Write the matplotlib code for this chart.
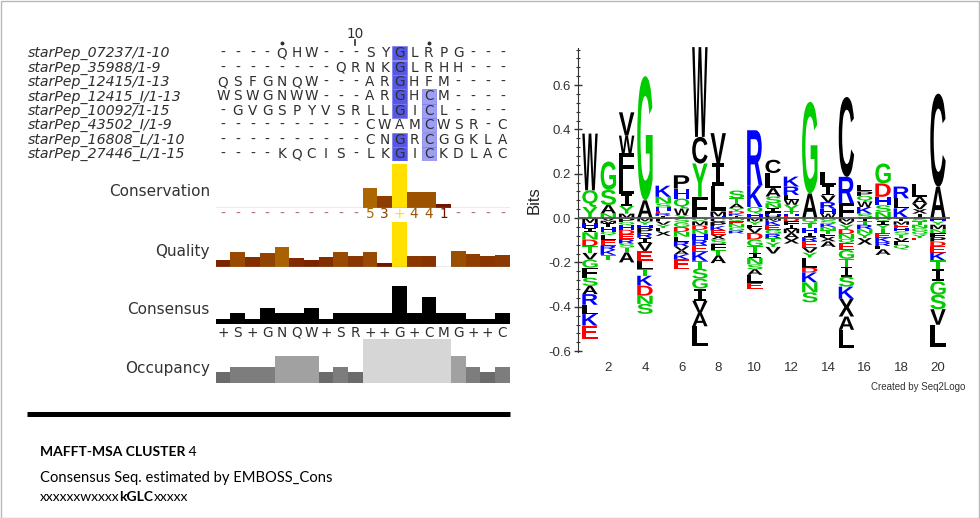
import matplotlib
matplotlib.use("Agg")
import matplotlib.pyplot as plt
from matplotlib.textpath import TextPath
from matplotlib.patches import PathPatch, Rectangle
from matplotlib.font_manager import FontProperties
from matplotlib.transforms import Affine2D, blended_transform_factory
from matplotlib.colors import LinearSegmentedColormap
from matplotlib.lines import Line2D
from matplotlib.ticker import MultipleLocator

plt.rcParams['axes.unicode_minus'] = False

# ---------------- data ----------------
seq_names = ["starPep_07237/1-10", "starPep_35988/1-9", "starPep_12415/1-13",
             "starPep_12415_I/1-13", "starPep_10092/1-15", "starPep_43502_I/1-9",
             "starPep_16808_L/1-10", "starPep_27446_L/1-15"]
sequences = ["----QHW---SYGLRPG---",
             "--------QRNKGLRHH---",
             "QSFGNQW---ARGHFM----",
             "WSWGNWW---ARGHCM----",
             "-GVGSPYVSRLLGICL----",
             "----------CWAMCWSR-C",
             "----------CNGRCGGKLA",
             "----KQCIS-LKGICKDLAC"]
columns = list(range(1, 21))
ruler_major = [10]
ruler_minor = [5, 15]
highlight_cols = [13, 15]
highlight_res = ["G", "C"]
conservation = [0, 0, 0, 0, 0, 0, 0, 0, 0, 0, 5, 3, 11, 4, 4, 1, 0, 0, 0, 0]
conservation_labels = list("----------53+441----")
quality = [16, 33, 21, 30, 44, 19, 16, 21, 33, 24, 33, 9, 100, 25, 23, 0, 35, 28, 24, 26]
consensus_pct = [12.5, 25, 12.5, 37.5, 25, 25, 37.5, 12.5, 25, 25,
                 25, 25, 87.5, 25, 62.5, 25, 25, 12.5, 12.5, 25]
consensus_labels = list("+S+GNQW+SR++G+CMG++C")
occupancy = [2, 3, 3, 3, 5, 5, 5, 2, 3, 2, 8, 8, 8, 8, 8, 8, 5, 3, 2, 3]

logo_positions = list(range(1, 21))
logo_pos_letters = ["YQW", "NASG", "MYILFWV", "AG", "IREHSNK", "YWQHP", "FYCW", "HMLIV",
                    "IKDYATS", "HQKR", "PHFINSALC", "EHTYWLRK", "AG", "WHRVIL", "FRC",
                    "SKWQPL", "NSHDG", "KLR", "IXVAL", "AC"]
logo_pos_heights = [
    [0.05, 0.075, 0.256],
    [0.021, 0.038, 0.068, 0.128],
    [0.02, 0.035, 0.055, 0.072, 0.11, 0.08, 0.105],
    [0.08, 0.56],
    [0.01, 0.012, 0.012, 0.014, 0.018, 0.03, 0.05],
    [0.013, 0.03, 0.045, 0.045, 0.06],
    [0.096, 0.15, 0.12, 0.405],
    [0.008, 0.022, 0.113, 0.105, 0.135],
    [0.01, 0.01, 0.012, 0.012, 0.02, 0.025, 0.035],
    [0.02, 0.03, 0.098, 0.248],
    [0.01, 0.01, 0.01, 0.015, 0.022, 0.03, 0.038, 0.068, 0.06],
    [0.01, 0.01, 0.01, 0.03, 0.022, 0.022, 0.038, 0.045],
    [0.111, 0.413],
    [0.02, 0.022, 0.03, 0.03, 0.045, 0.06],
    [0.066, 0.12, 0.36],
    [0.02, 0.03, 0.025, 0.025, 0.02, 0.03],
    [0.028, 0.03, 0.038, 0.06, 0.09],
    [0.044, 0.045, 0.053],
    [0.02, 0.02, 0.025, 0.03, 0.06],
    [0.141, 0.42],
]
logo_neg_letters = ["MHINDTVGFSARLKE", "VMIHQLERKT", "PQHDERSTA", "MYHPRIVELTKDNS",
                    "FVYLX", "SGDNLRVAKE", "QMDNHREKTSGIVAL", "CPKEXSFTA", "QENGR",
                    "MYFVDGTINSALE", "MKEGRTYV", "DFIMAX", "QTHIREVYLDKNS", "GSKNTFXA",
                    "MVYDNQEGTISKXAL", "ITRNYX", "QIYTEKRLA", "IMEHSTVFQ", "STNGQYE",
                    "HYMNFPDEKTIGSVL"]
logo_neg_heights = [
    [0.022, 0.022, 0.02, 0.033, 0.03, 0.03, 0.03, 0.037, 0.045, 0.037, 0.037, 0.048, 0.042, 0.052, 0.06],
    [0.012, 0.012, 0.018, 0.02, 0.015, 0.022, 0.025, 0.02, 0.022, 0.025],
    [0.018, 0.015, 0.02, 0.02, 0.022, 0.02, 0.018, 0.022, 0.045],
    [0.015, 0.015, 0.015, 0.022, 0.022, 0.022, 0.037, 0.045, 0.037, 0.03, 0.045, 0.045, 0.037, 0.045],
    [0.015, 0.015, 0.015, 0.015, 0.02],
    [0.02, 0.02, 0.022, 0.022, 0.022, 0.022, 0.018, 0.018, 0.022, 0.045],
    [0.015, 0.018, 0.02, 0.02, 0.025, 0.025, 0.03, 0.04, 0.035, 0.045, 0.045, 0.055, 0.055, 0.06, 0.09],
    [0.018, 0.018, 0.02, 0.02, 0.02, 0.022, 0.025, 0.025, 0.035],
    [0.015, 0.012, 0.015, 0.015, 0.012],
    [0.015, 0.015, 0.015, 0.022, 0.03, 0.03, 0.03, 0.022, 0.03, 0.022, 0.025, 0.035, 0.03],
    [0.012, 0.02, 0.02, 0.02, 0.018, 0.02, 0.02, 0.03],
    [0.015, 0.015, 0.018, 0.02, 0.022, 0.025],
    [0.022, 0.022, 0.022, 0.02, 0.018, 0.03, 0.022, 0.022, 0.045, 0.022, 0.045, 0.045, 0.045],
    [0.01, 0.015, 0.015, 0.015, 0.015, 0.015, 0.02, 0.025],
    [0.015, 0.015, 0.02, 0.022, 0.022, 0.02, 0.03, 0.04, 0.035, 0.045, 0.045, 0.055, 0.08, 0.06, 0.08],
    [0.015, 0.015, 0.02, 0.02, 0.02, 0.03],
    [0.015, 0.015, 0.018, 0.02, 0.02, 0.02, 0.018, 0.015, 0.025],
    [0.015, 0.015, 0.015, 0.015, 0.015, 0.015, 0.015, 0.015, 0.022],
    [0.015, 0.015, 0.015, 0.015, 0.015, 0.015, 0.01],
    [0.015, 0.015, 0.02, 0.018, 0.018, 0.02, 0.02, 0.03, 0.035, 0.04, 0.055, 0.06, 0.065, 0.07, 0.1],
]
logo_xticks = [2, 4, 6, 8, 10, 12, 14, 16, 18, 20]

# ---------------- figure ----------------
W, H = 980, 518
fig = plt.figure(figsize=(W / 100, H / 100), dpi=100)
fig.patch.set_facecolor("white")


def px_axes(x0, y0, x1, y1):
    return fig.add_axes([x0 / W, 1 - y1 / H, (x1 - x0) / W, (y1 - y0) / H])


COL_X0, COL_X1 = 215.7, 509.7
CW = (COL_X1 - COL_X0) / 20.0
ROW_TOP, ROW_H = 46.1, 14.4
TXT = "#2e2e2e"

# ---- alignment ----
ax_aln = px_axes(COL_X0, ROW_TOP, COL_X1, ROW_TOP + 8 * ROW_H)
ax_aln.set_xlim(0.5, 20.5)
ax_aln.set_ylim(8.5, 0.5)
ax_aln.axis("off")
hl_colors = ["#5757e6", "#9e9ef2"]


def yrow(px):
    return 0.5 + (px - ROW_TOP) / ROW_H


name_x = 0.5 + (28 - COL_X0) / CW
for r, (name, seq) in enumerate(zip(seq_names, sequences), start=1):
    ax_aln.text(name_x, r, name, ha="left", va="center", fontsize=10.2,
                style="italic", family="DejaVu Sans", color=TXT, clip_on=False)
    for c, ch in zip(columns, seq):
        if c in highlight_cols and ch == highlight_res[highlight_cols.index(c)]:
            k = highlight_cols.index(c)
            ax_aln.bar(c, 1, bottom=r - 0.5, width=1, color=hl_colors[k],
                       edgecolor="#7a7af0", linewidth=0.5)
        ax_aln.text(c, r, ch, ha="center", va="center", fontsize=9.8,
                    family="DejaVu Sans", color=TXT)

for c in ruler_major:
    ax_aln.plot([c, c], [yrow(40.5), yrow(45.0)], color=TXT, lw=1.2, clip_on=False)
    ax_aln.text(c, yrow(34), str(c), ha="center", va="center", fontsize=9.8,
                family="DejaVu Sans", color=TXT, clip_on=False)
for c in ruler_minor:
    ax_aln.plot([c], [yrow(43.3)], marker="o", ms=1.8, color=TXT, clip_on=False)

cmap_cons = LinearSegmentedColormap.from_list("jal", ["#640000", "#ffe000"])


def setup_row(ax, top):
    ax.set_xlim(0.5, 20.5)
    ax.set_ylim(0, top)
    ax.axis("off")


# ---- conservation ----
ax_c = px_axes(COL_X0, 164, COL_X1, 208)
setup_row(ax_c, 11)
ax_c.bar(columns, conservation, width=1.0,
         color=[cmap_cons(v / 11.0) for v in conservation], linewidth=0)
ax_c.axhline(0, color="#999999", lw=1.0)
tr = blended_transform_factory(ax_c.transData, ax_c.transAxes)
for c, s, v in zip(columns, conservation_labels, conservation):
    col = "#b07070" if s == "-" else cmap_cons(v / 11.0)
    ax_c.text(c, -0.14, s, transform=tr, ha="center", va="center", fontsize=9.8,
              family="DejaVu Sans", color=col, clip_on=False)

# ---- quality ----
ax_q = px_axes(COL_X0, 222, COL_X1, 266.7)
setup_row(ax_q, 100)
ax_q.bar(columns, quality, width=1.0,
         color=[cmap_cons(v / 100.0) for v in quality], linewidth=0)
ax_q.axhline(0, color="#999999", lw=1.0)

# ---- consensus ----
ax_s = px_axes(COL_X0, 281, COL_X1, 324)
setup_row(ax_s, 100)
ax_s.bar(columns, consensus_pct, width=1.0, color="black", linewidth=0)
tr = blended_transform_factory(ax_s.transData, ax_s.transAxes)
for c, s in zip(columns, consensus_labels):
    ax_s.text(c, -0.2, s, transform=tr, ha="center", va="center", fontsize=9.8,
              family="DejaVu Sans", color=TXT, clip_on=False)

# ---- occupancy ----
ax_o = px_axes(COL_X0, 339.3, COL_X1, 383.3)
setup_row(ax_o, 8)
cmap_occ = LinearSegmentedColormap.from_list("occ", ["#474747", "#d6d6d6"])
ax_o.bar(columns, occupancy, width=1.0,
         color=[cmap_occ(v / 8.0) for v in occupancy], linewidth=0)

for label, yc in [("Conservation", 192), ("Quality", 251.7),
                  ("Consensus", 309.7), ("Occupancy", 368.7)]:
    fig.text(210 / W, 1 - yc / H, label, ha="right", va="center", fontsize=11,
             family="DejaVu Sans", color="#333333")

# ---- thick rule and caption ----
fig.add_artist(Line2D([27 / W, 510 / W], [1 - 413.5 / H, 1 - 413.5 / H],
                      color="black", lw=3.6, solid_capstyle="butt"))

cap_font = "Lato"
t1 = fig.text(40 / W, 1 - 452 / H, "MAFFT-MSA CLUSTER", fontsize=10, weight="bold",
              family=cap_font, va="center", ha="left", color="black")
plt.annotate(" 4", xy=(1, 0), xycoords=t1, va="bottom", ha="left",
             fontsize=10, family=cap_font, color="black")
fig.text(40 / W, 1 - 478 / H, "Consensus Seq. estimated by EMBOSS_Cons", fontsize=10.6,
         family=cap_font, va="center", ha="left", color="black")
t2 = fig.text(40 / W, 1 - 497 / H, "xxxxxxwxxxx", fontsize=10, family=cap_font,
              va="center", ha="left", color="black")
t3 = plt.annotate("kGLC", xy=(1, 0), xycoords=t2, va="bottom", ha="left",
                  fontsize=10, weight="bold", family=cap_font, color="black")
plt.annotate("xxxxx", xy=(1, 0), xycoords=t3, va="bottom", ha="left",
             fontsize=10, family=cap_font, color="black")

# ---- sequence logo ----
axL = px_axes(578, 48, 950, 352)
axL.set_xlim(0.345, 20.655)
axL.set_ylim(-0.604, 0.767)
for sp in ["top", "right", "bottom"]:
    axL.spines[sp].set_visible(False)
axL.spines["left"].set_color("#333333")
axL.yaxis.set_major_locator(MultipleLocator(0.2))
axL.yaxis.set_minor_locator(MultipleLocator(0.04))
axL.tick_params(axis="y", which="major", direction="inout", length=6, width=1,
                labelsize=9.5, pad=2, colors="#333333")
axL.tick_params(axis="y", which="minor", direction="inout", length=3, width=0.8,
                colors="#333333")
axL.set_yticks([-0.6, -0.4, -0.2, 0.0, 0.2, 0.4, 0.6])
axL.set_yticklabels(["-0.6", "-0.4", "-0.2", "0.0", "0.2", "0.4", "0.6"],
                    family="Liberation Sans")
axL.set_xticks(logo_xticks)
axL.set_xticklabels([str(v) for v in logo_xticks], family="Liberation Sans")
axL.tick_params(axis="x", length=0, labelsize=9.5, pad=7, colors="#333333")
axL.set_ylabel("Bits", fontsize=12, family="Liberation Sans", labelpad=5, color="#222222")
axL.axhline(0, color="#555555", lw=1.3, zorder=5)

letter_fp = FontProperties(family="Liberation Sans", weight="bold")
serif_fp = FontProperties(family="DejaVu Sans Mono", weight="bold")
green, blue, red = "GSTYQN", "KRH", "DE"


def letter_color(ch):
    if ch in green:
        return "#00cc00"
    if ch in blue:
        return "#0000ff"
    if ch in red:
        return "#ff0000"
    return "#000000"


_cache = {}


def draw_letter(ax, ch, xc, y0, w, h):
    if ch not in _cache:
        fp = serif_fp if ch == "I" else letter_fp
        _cache[ch] = TextPath((0, 0), ch, size=1, prop=fp)
    tp = _cache[ch]
    bb = tp.get_extents()
    ww = w * (0.75 if ch == "I" else 1.0)
    t = (Affine2D().translate(-bb.x0, -bb.y0)
         .scale(ww / bb.width, h / bb.height).translate(xc - ww / 2, y0))
    ax.add_patch(PathPatch(t.transform_path(tp), facecolor=letter_color(ch),
                           edgecolor="none", lw=0, clip_on=False))


LW = 0.84
for i, pos in enumerate(logo_positions):
    y = 0.0
    for ch, h in zip(logo_pos_letters[i], logo_pos_heights[i]):
        draw_letter(axL, ch, pos, y, LW, h)
        y += h
    y = 0.0
    for ch, h in zip(logo_neg_letters[i], logo_neg_heights[i]):
        y -= h
        draw_letter(axL, ch, pos, y, LW, h)

fig.text(965 / W, 1 - 387 / H, "Created by Seq2Logo", ha="right", va="center",
         fontsize=7, family="Liberation Sans", color="#333333")

# border
fig.add_artist(Rectangle((0.5 / W, 0.5 / H), 1 - 1.5 / W, 1 - 1.5 / H,
                         transform=fig.transFigure, fill=False,
                         edgecolor="#b8b8b8", lw=1))

fig.savefig("out.png", dpi=100, facecolor="white")
